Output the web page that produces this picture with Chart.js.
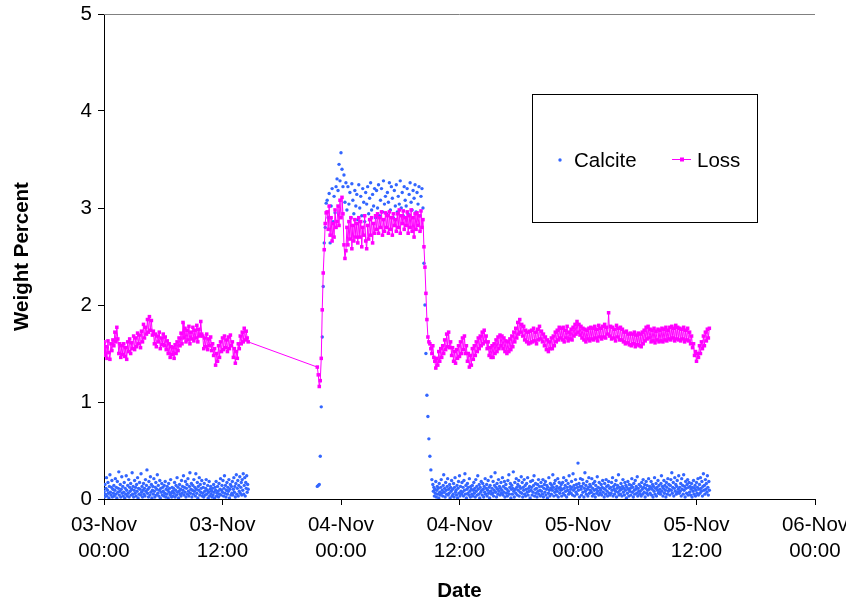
<!DOCTYPE html>
<html>
<head>
<meta charset="utf-8">
<script src="https://cdn.jsdelivr.net/npm/chart.js@4.4.1/dist/chart.umd.min.js"></script>
<style>
  html, body { margin: 0; padding: 0; background: #ffffff; }
  #wrap { width: 846px; height: 603px; }
</style>
</head>
<body>
<div id="wrap"><canvas id="c" width="846" height="603"></canvas></div>
<script>
// ---- Data: x in hours since 03-Nov 00:00 ----
const tickDays  = ['03-Nov', '03-Nov', '04-Nov', '04-Nov', '05-Nov', '05-Nov', '06-Nov'];
const tickTimes = ['00:00', '12:00', '00:00', '12:00', '00:00', '12:00', '00:00'];

// Loss, sampled every 0.1 h
const lossStep = 0.1;
const lossAStart = 0.0;
const lossA = [
  1.62,1.48,1.57,1.45,1.63,1.51,1.44,1.60,1.53,1.64,
  1.58,1.72,1.62,1.77,1.65,1.50,1.60,1.46,1.58,1.49,
  1.60,1.47,1.56,1.44,1.62,1.52,1.65,1.50,1.61,1.55,
  1.68,1.54,1.66,1.57,1.71,1.60,1.69,1.56,1.73,1.62,
  1.80,1.66,1.77,1.70,1.85,1.72,1.88,1.74,1.84,1.69,
  1.73,1.60,1.70,1.57,1.68,1.62,1.72,1.55,1.66,1.59,
  1.70,1.58,1.67,1.54,1.63,1.50,1.60,1.46,1.57,1.49,
  1.56,1.45,1.59,1.50,1.62,1.53,1.66,1.58,1.71,1.60,
  1.82,1.66,1.76,1.62,1.74,1.64,1.78,1.60,1.72,1.65,
  1.77,1.63,1.74,1.66,1.79,1.62,1.75,1.68,1.83,1.70,
  1.68,1.55,1.66,1.57,1.70,1.54,1.65,1.58,1.67,1.53,
  1.60,1.48,1.55,1.38,1.50,1.42,1.58,1.46,1.62,1.52,
  1.66,1.54,1.68,1.56,1.64,1.52,1.67,1.55,1.69,1.58,
  1.62,1.46,1.55,1.40,1.52,1.45,1.60,1.55,1.68,1.60,
  1.72,1.62,1.76,1.64,1.73,1.66,1.62
];

const lossBStart = 21.6;
const lossB = [
  1.36,1.28,1.16,1.22,1.45,1.95,2.33,2.57,2.84,2.95,
  2.96,2.78,3.02,2.72,2.90,2.66,2.84,2.70,2.98,2.80,
  2.86,3.02,2.82,3.08,2.90,3.11,2.94,2.62,2.48,2.56,
  2.80,2.62,2.86,2.68,2.90,2.58,2.82,2.66,2.88,2.70,
  2.84,2.64,2.90,2.70,2.86,2.60,2.80,2.72,2.92,2.66,
  2.58,2.82,2.68,2.88,2.72,2.90,2.64,2.84,2.74,2.92,
  2.78,2.94,2.74,2.90,2.80,2.96,2.72,2.88,2.76,2.95,
  2.80,2.92,2.74,2.96,2.78,2.90,2.72,2.94,2.82,2.88,
  2.76,2.94,2.80,2.98,2.74,2.92,2.84,2.97,2.78,2.90,
  2.82,2.96,2.74,2.92,2.80,2.98,2.76,2.90,2.70,2.94,
  2.78,2.95,2.82,2.92,2.76,2.97,2.80,2.88,
  2.60,2.39,2.12,1.85,1.67,1.62,1.60,1.55,1.50,
  1.58,1.46,1.42,1.35,1.45,1.38,1.52,1.42,1.55,1.46,
  1.58,1.50,1.64,1.54,1.70,1.57,1.72,1.56,1.62,1.48,
  1.56,1.42,1.52,1.40,1.54,1.45,1.58,1.47,1.62,1.50,
  1.66,1.54,1.68,1.50,1.58,1.42,1.50,1.36,1.48,1.38,
  1.55,1.44,1.58,1.48,1.62,1.52,1.66,1.55,1.68,1.58,
  1.72,1.60,1.74,1.62,1.68,1.55,1.62,1.48,1.56,1.46,
  1.58,1.46,1.60,1.50,1.64,1.52,1.67,1.55,1.69,1.58,
  1.68,1.55,1.66,1.52,1.63,1.50,1.62,1.52,1.65,1.54,
  1.68,1.57,1.72,1.62,1.76,1.66,1.82,1.70,1.85,1.72,
  1.80,1.68,1.78,1.64,1.74,1.62,1.72,1.60,1.73,1.61,
  1.74,1.62,1.76,1.63,1.72,1.60,1.75,1.64,1.78,1.65,
  1.73,1.62,1.70,1.58,1.67,1.54,1.64,1.52,1.62,1.55,
  1.66,1.55,1.68,1.58,1.72,1.62,1.74,1.64,1.77,1.66,
  1.76,1.64,1.77,1.62,1.74,1.66,1.78,1.63,1.72,1.65,
  1.75,1.64,1.77,1.68,1.80,1.70,1.83,1.72,1.80,1.69,
  1.78,1.66,1.76,1.64,1.75,1.62,1.74,1.65,1.76,1.63,
  1.77,1.65,1.76,1.64,1.78,1.66,1.75,1.63,1.79,1.67,
  1.76,1.65,1.78,1.67,1.80,1.66,1.77,1.70,1.92,1.68,
  1.78,1.65,1.77,1.66,1.75,1.63,1.79,1.67,1.76,1.64,
  1.77,1.64,1.75,1.62,1.72,1.60,1.73,1.61,1.70,1.59,
  1.71,1.58,1.70,1.60,1.72,1.57,1.69,1.59,1.71,1.58,
  1.70,1.57,1.72,1.60,1.74,1.63,1.77,1.65,1.78,1.66,
  1.75,1.62,1.74,1.63,1.76,1.61,1.73,1.64,1.75,1.62,
  1.74,1.63,1.76,1.62,1.75,1.64,1.77,1.63,1.74,1.65,
  1.77,1.64,1.78,1.66,1.76,1.63,1.79,1.65,1.77,1.64,
  1.76,1.63,1.75,1.65,1.77,1.62,1.74,1.64,1.76,1.63,
  1.72,1.60,1.68,1.56,1.60,1.48,1.52,1.42,1.50,1.46,
  1.58,1.50,1.62,1.55,1.68,1.58,1.72,1.63,1.75,1.66,
  1.76
];

// Calcite: first day segment sampled every 0.05 h
const calciteAStep = 0.05;
const calciteAStart = 0.0;
const calciteA = [
  0.08,0.02,0.15,0.05,0.11,0.22,0.03,0.09,0.17,0.06,0.01,0.13,0.25,0.07,0.04,0.12,0.19,0.02,0.10,0.06,
  0.14,0.03,0.09,0.21,0.05,0.12,0.01,0.18,0.07,0.11,0.28,0.04,0.08,0.15,0.02,0.10,0.23,0.06,0.13,0.03,
  0.07,0.17,0.01,0.11,0.05,0.24,0.09,0.03,0.14,0.06,0.20,0.02,0.12,0.08,0.16,0.04,0.10,0.27,0.05,0.13,
  0.02,0.09,0.19,0.06,0.12,0.03,0.15,0.08,0.22,0.01,0.11,0.05,0.17,0.10,0.04,0.26,0.07,0.13,0.02,0.09,
  0.16,0.05,0.11,0.03,0.20,0.08,0.14,0.30,0.06,0.10,0.02,0.18,0.12,0.04,0.23,0.07,0.15,0.01,0.09,0.13,
  0.05,0.21,0.08,0.02,0.12,0.17,0.04,0.10,0.25,0.06,0.14,0.03,0.09,0.19,0.01,0.11,0.07,0.16,0.04,0.12,
  0.08,0.03,0.14,0.06,0.18,0.02,0.10,0.05,0.13,0.09,0.01,0.16,0.07,0.11,0.04,0.20,0.06,0.02,0.12,0.08,
  0.03,0.11,0.06,0.17,0.02,0.09,0.14,0.04,0.22,0.07,0.12,0.01,0.08,0.15,0.05,0.10,0.03,0.19,0.06,0.13,
  0.09,0.24,0.04,0.12,0.07,0.18,0.02,0.11,0.15,0.05,0.21,0.08,0.03,0.13,0.27,0.06,0.10,0.16,0.02,0.09,
  0.14,0.05,0.20,0.08,0.12,0.03,0.26,0.10,0.06,0.17,0.01,0.13,0.09,0.22,0.04,0.15,0.07,0.11,0.19,0.03,
  0.06,0.12,0.02,0.16,0.08,0.04,0.11,0.20,0.05,0.09,0.14,0.01,0.07,0.18,0.03,0.10,0.13,0.05,0.08,0.02,
  0.11,0.04,0.15,0.07,0.01,0.12,0.09,0.18,0.03,0.06,0.13,0.08,0.02,0.16,0.05,0.10,0.21,0.04,0.09,0.14,
  0.07,0.19,0.03,0.11,0.24,0.06,0.14,0.02,0.09,0.17,0.05,0.12,0.08,0.20,0.01,0.10,0.15,0.04,0.13,0.06,
  0.18,0.04,0.10,0.22,0.07,0.13,0.02,0.16,0.25,0.05,0.11,0.19,0.03,0.14,0.08,0.23,0.06,0.12,0.17,0.04,
  0.20,0.09,0.26,0.05,0.14,0.22,0.03,0.17,0.11,0.24,0.07,0.15,0.10
];

// Calcite: rise, plateau and fall, sampled every 0.1 h
const calciteBStep = 0.1;
const calciteBStart = 21.6;
const calciteB = [
  0.13,0.14,0.15,0.44,0.95,1.67,2.19,2.64,2.80,3.05,
  3.08,2.90,3.15,2.64,3.02,3.20,2.86,3.12,2.95,3.22,
  3.30,3.18,3.45,3.28,3.57,3.40,3.22,3.34,3.06,3.26,
  2.98,3.22,3.04,3.16,2.90,3.25,3.08,2.94,3.18,3.02,
  3.14,2.88,3.24,3.00,3.12,2.92,3.20,3.06,2.86,3.16,
  3.04,3.22,2.94,3.10,3.26,2.98,3.14,3.02,3.20,2.90,
  3.18,3.00,3.24,2.92,3.08,3.20,2.96,3.28,3.04,3.12,
  2.94,3.16,3.06,3.26,2.98,3.22,3.10,2.90,3.18,3.02,
  3.24,2.96,3.12,3.04,3.28,3.00,3.16,2.92,3.22,3.08,
  3.02,3.20,2.94,3.14,3.26,3.06,2.98,3.18,3.10,3.24,
  2.96,3.16,3.04,3.22,2.92,3.12,3.20,3.00,
  2.43,2.00,1.50,1.07,0.85,0.62,0.44,0.30,0.20
];

// Calcite: last segment sampled every 0.05 h
const calciteCStep = 0.05;
const calciteCStart = 33.3;
const calciteC = [
  0.15,0.08,0.12,0.03,0.10,0.06,0.18,0.02,0.09,0.13,0.05,0.11,0.01,0.16,0.07,0.04,0.12,0.20,0.06,0.09,
  0.03,0.14,0.25,0.07,0.11,0.02,0.17,0.09,0.05,0.13,0.21,0.04,0.10,0.06,0.15,0.01,0.12,0.08,0.19,0.03,
  0.10,0.05,0.16,0.02,0.12,0.22,0.07,0.09,0.04,0.14,0.01,0.11,0.18,0.06,0.24,0.03,0.13,0.08,0.05,0.17,
  0.07,0.12,0.03,0.19,0.09,0.26,0.05,0.14,0.01,0.10,0.16,0.06,0.12,0.04,0.21,0.08,0.02,0.13,0.10,0.05,
  0.14,0.03,0.09,0.17,0.06,0.11,0.02,0.20,0.08,0.13,0.04,0.24,0.10,0.05,0.15,0.01,0.12,0.07,0.18,0.09,
  0.04,0.16,0.10,0.02,0.13,0.07,0.21,0.05,0.11,0.15,0.03,0.09,0.19,0.06,0.12,0.01,0.14,0.08,0.23,0.05,
  0.11,0.06,0.18,0.03,0.09,0.14,0.27,0.07,0.12,0.02,0.16,0.10,0.05,0.20,0.08,0.13,0.04,0.11,0.17,0.06,
  0.09,0.22,0.04,0.13,0.07,0.18,0.02,0.11,0.15,0.06,0.10,0.03,0.19,0.08,0.25,0.05,0.12,0.16,0.01,0.10,
  0.14,0.05,0.11,0.28,0.08,0.02,0.17,0.10,0.06,0.21,0.12,0.04,0.15,0.09,0.19,0.03,0.13,0.07,0.11,0.23,
  0.06,0.17,0.02,0.12,0.09,0.20,0.05,0.14,0.03,0.10,0.16,0.07,0.22,0.04,0.11,0.08,0.13,0.01,0.18,0.09,
  0.12,0.04,0.19,0.07,0.14,0.24,0.03,0.10,0.16,0.06,0.11,0.02,0.15,0.08,0.20,0.05,0.13,0.09,0.03,0.17,
  0.08,0.13,0.05,0.20,0.02,0.11,0.15,0.07,0.18,0.04,0.10,0.14,0.01,0.12,0.06,0.22,0.09,0.03,0.16,0.11,
  0.05,0.14,0.09,0.25,0.12,0.03,0.16,0.07,0.19,0.10,0.04,0.13,0.08,0.21,0.02,0.11,0.17,0.06,0.12,0.09,
  0.15,0.03,0.10,0.17,0.06,0.22,0.11,0.04,0.14,0.08,0.19,0.02,0.12,0.09,0.16,0.05,0.24,0.07,0.13,0.10,
  0.06,0.18,0.12,0.04,0.26,0.09,0.14,0.03,0.11,0.20,0.07,0.15,0.05,0.12,0.37,0.09,0.16,0.02,0.13,0.21,
  0.10,0.04,0.13,0.20,0.07,0.16,0.02,0.11,0.27,0.08,0.14,0.05,0.18,0.10,0.03,0.12,0.22,0.06,0.15,0.09,
  0.13,0.07,0.21,0.03,0.11,0.16,0.05,0.09,0.18,0.02,0.14,0.10,0.06,0.23,0.08,0.12,0.04,0.17,0.11,0.06,
  0.09,0.15,0.04,0.12,0.19,0.07,0.11,0.02,0.16,0.10,0.05,0.20,0.13,0.08,0.03,0.14,0.18,0.06,0.11,0.04,
  0.12,0.06,0.17,0.09,0.22,0.03,0.13,0.10,0.05,0.15,0.08,0.19,0.02,0.11,0.14,0.07,0.25,0.04,0.12,0.09,
  0.05,0.16,0.10,0.03,0.13,0.20,0.07,0.11,0.04,0.17,0.09,0.14,0.01,0.12,0.06,0.18,0.10,0.03,0.15,0.08,
  0.11,0.04,0.14,0.21,0.07,0.12,0.02,0.16,0.09,0.05,0.19,0.10,0.13,0.06,0.23,0.03,0.11,0.08,0.15,0.05,
  0.08,0.13,0.03,0.17,0.10,0.05,0.20,0.12,0.07,0.15,0.02,0.11,0.18,0.06,0.14,0.09,0.04,0.21,0.10,0.13,
  0.06,0.12,0.18,0.04,0.10,0.15,0.02,0.13,0.08,0.22,0.05,0.11,0.16,0.03,0.12,0.09,0.19,0.06,0.14,0.07,
  0.10,0.05,0.16,0.24,0.08,0.13,0.03,0.11,0.19,0.06,0.14,0.09,0.02,0.17,0.12,0.05,0.21,0.08,0.15,0.10,
  0.04,0.14,0.20,0.09,0.27,0.06,0.12,0.17,0.03,0.11,0.22,0.08,0.15,0.05,0.13,0.19,0.07,0.10,0.24,0.06,
  0.12,0.08,0.16,0.03,0.21,0.10,0.14,0.05,0.25,0.09,0.13,0.02,0.18,0.11,0.06,0.15,0.20,0.04,0.12,0.17,
  0.07,0.13,0.04,0.10,0.16,0.02,0.12,0.08,0.19,0.05,0.11,0.14,0.03,0.09,0.17,0.06,0.12,0.21,0.04,0.10,
  0.15,0.06,0.22,0.11,0.08,0.18,0.03,0.13,0.26,0.09,0.14,0.05,0.20,0.10,0.16,0.07,0.24,0.12,0.04,0.18,
  0.09
];

// ---- Build point lists ----
function toPoints(start, step, values) {
  return values.map((v, i) => ({ x: Math.round((start + i * step) * 100) / 100, y: v }));
}
const lossPoints = toPoints(lossAStart, lossStep, lossA)
  .concat(toPoints(lossBStart, lossStep, lossB));
const calcitePoints = toPoints(calciteAStart, calciteAStep, calciteA)
  .concat(toPoints(calciteBStart, calciteBStep, calciteB))
  .concat(toPoints(calciteCStart, calciteCStep, calciteC));

const FONT = '"Liberation Sans", Arial, Helvetica, sans-serif';
const BLUE = '#3366ff';
const MAGENTA = '#ff00ff';

const frameAndLegend = {
  id: 'frameAndLegend',
  afterDraw(chart) {
    const { ctx, chartArea: a } = chart;
    ctx.save();
    ctx.strokeStyle = '#808080';
    ctx.lineWidth = 1;
    ctx.beginPath();
    ctx.moveTo(a.left, Math.floor(a.top) + 0.5);
    ctx.lineTo(a.right, Math.floor(a.top) + 0.5);
    ctx.stroke();

    const bx = 532.5, by = 94.5, bw = 225, bh = 128;
    ctx.fillStyle = '#ffffff';
    ctx.fillRect(bx, by, bw, bh);
    ctx.strokeStyle = '#000000';
    ctx.strokeRect(bx, by, bw, bh);

    const cy = 160;
    ctx.font = '20.5px ' + FONT;
    ctx.textBaseline = 'middle';
    ctx.textAlign = 'left';
    ctx.fillStyle = BLUE;
    ctx.beginPath();
    ctx.arc(560, cy, 1.7, 0, Math.PI * 2);
    ctx.fill();
    ctx.fillStyle = '#000000';
    ctx.fillText(chart.data.datasets[1].label, 574, cy + 1);
    ctx.strokeStyle = MAGENTA;
    ctx.beginPath();
    ctx.moveTo(672, cy - 0.5);
    ctx.lineTo(691, cy - 0.5);
    ctx.stroke();
    ctx.fillStyle = MAGENTA;
    ctx.fillRect(680, cy - 2.5, 4, 4);
    ctx.fillStyle = '#000000';
    ctx.fillText(chart.data.datasets[0].label, 697, cy + 1);
    ctx.restore();
  }
};

new Chart(document.getElementById('c'), {
  type: 'scatter',
  data: {
    datasets: [
      {
        label: 'Loss',
        data: lossPoints,
        showLine: true,
        borderColor: MAGENTA,
        borderWidth: 1,
        backgroundColor: MAGENTA,
        pointStyle: 'rect',
        pointRadius: 2.5,
        pointBorderWidth: 0,
        pointBackgroundColor: MAGENTA,
        pointHoverRadius: 2.5,
        tension: 0
      },
      {
        label: 'Calcite',
        data: calcitePoints,
        showLine: false,
        backgroundColor: BLUE,
        borderColor: BLUE,
        pointStyle: 'circle',
        pointRadius: 1.7,
        pointBorderWidth: 0,
        pointHoverRadius: 1.7
      }
    ]
  },
  options: {
    responsive: false,
    animation: false,
    devicePixelRatio: 1,
    layout: { padding: { left: 0, top: 14, right: 31, bottom: 0 } },
    plugins: {
      legend: { display: false },
      tooltip: { enabled: false }
    },
    scales: {
      x: {
        type: 'linear',
        min: 0,
        max: 72,
        afterBuildTicks(scale) {
          scale.ticks = tickDays.map((d, i) => ({ value: i * 12 }));
        },
        afterFit(scale) {
          scale.height = 104;
          scale.paddingLeft = 0;
          scale.paddingRight = 0;
        },
        border: { display: true, color: '#000000', width: 1 },
        grid: { display: true, drawOnChartArea: false, drawTicks: true, tickLength: 6, color: '#000000' },
        ticks: {
          autoSkip: false,
          maxRotation: 0,
          padding: 8,
          color: '#000000',
          font: { family: FONT, size: 20.5, lineHeight: 1.25 },
          callback(value, index) { return [tickDays[index], tickTimes[index]]; }
        },
        title: {
          display: true,
          text: 'Date',
          color: '#000000',
          font: { family: FONT, size: 20.5, weight: 'bold', lineHeight: 1 },
          padding: { top: 0, bottom: 1 }
        }
      },
      y: {
        min: 0,
        max: 5,
        afterFit(scale) {
          scale.width = 104;
          scale.paddingTop = 0;
          scale.paddingBottom = 0;
        },
        border: { display: true, color: '#000000', width: 1 },
        grid: { display: true, drawOnChartArea: false, drawTicks: true, tickLength: 6, color: '#000000' },
        ticks: {
          stepSize: 1,
          padding: 6,
          color: '#000000',
          font: { family: FONT, size: 20.5 }
        },
        title: {
          display: true,
          text: 'Weight Percent',
          color: '#000000',
          font: { family: FONT, size: 20.5, weight: 'bold', lineHeight: 1 },
          padding: { top: 12, bottom: 0 }
        }
      }
    }
  },
  plugins: [frameAndLegend]
});
</script>
</body>
</html>
